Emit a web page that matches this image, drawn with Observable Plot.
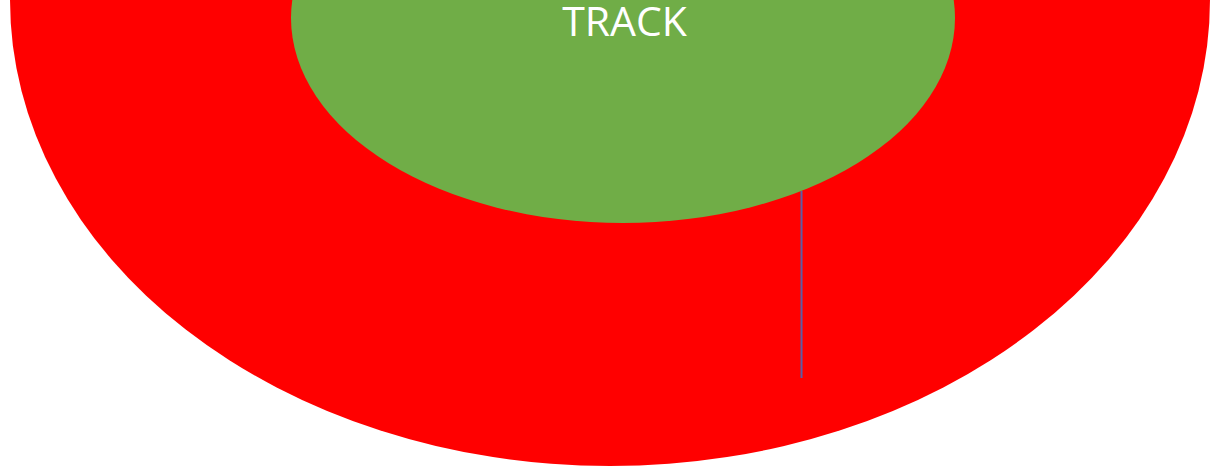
<!DOCTYPE html>
<html>
<head>
<meta charset="utf-8">
<script src="https://cdn.jsdelivr.net/npm/d3@7"></script>
<script src="https://cdn.jsdelivr.net/npm/@observablehq/plot@0.6"></script>
<style>
  html, body { margin: 0; padding: 0; background: #fff; overflow: hidden; }
  svg { display: block; }
</style>
</head>
<body>
<div id="chart"></div>
<script>
// Shapes (data space: pixels of the original picture, y downward)
const shapeNames = ["Outer", "Track"];
const shapeCX = [610, 623];
const shapeCY = [0, 18];
const shapeRX = [600, 332];
const shapeRY = [466, 205];

// Marker rule
const markerX = [801];
const markerY1 = [191];
const markerY2 = [378];

// Label
const labels = ["TRACK"];
const labelX = [624];
const labelY = [22];

const shapeColors = {Outer: "#ff0000", Track: "#70ad47"};

const shapes = shapeNames.map((n, i) => ({name: n, cx: shapeCX[i], cy: shapeCY[i], rx: shapeRX[i], ry: shapeRY[i]}));
const markers = markerX.map((x, i) => ({x, y1: markerY1[i], y2: markerY2[i]}));
const labelData = labels.map((t, i) => ({t, x: labelX[i], y: labelY[i]}));

function ellipseMark(data) {
  return Plot.dot(data, {
    x: "cx", y: "cy",
    render(index, scales, values, dims, context) {
      const g = d3.create("svg:g");
      for (const i of index) {
        const d = data[i];
        const cx = scales.x(d.cx), cy = scales.y(d.cy);
        const rx = Math.abs(scales.x(d.cx + d.rx) - cx);
        const ry = Math.abs(scales.y(d.cy + d.ry) - cy);
        g.append("ellipse")
          .attr("cx", cx).attr("cy", cy)
          .attr("rx", rx).attr("ry", ry)
          .attr("fill", shapeColors[d.name]);
      }
      return g.node();
    }
  });
}

const chart = Plot.plot({
  width: 1210,
  height: 468,
  margin: 0,
  x: {domain: [0, 1210], range: [0, 1210], axis: null},
  y: {domain: [0, 468], range: [0, 468], axis: null},
  style: {background: "#fff", overflow: "hidden"},
  marks: [
    ellipseMark(shapes),
    Plot.ruleX(markers, {x: "x", y1: "y1", y2: "y2", stroke: "#5b5ea6", strokeWidth: 2}),
    Plot.text(labelData, {x: "x", y: "y", text: "t", fill: "#fff", fontSize: 41,
      fontFamily: "Open Sans", textAnchor: "middle", lineAnchor: "middle"})
  ]
});
document.getElementById("chart").appendChild(chart);
</script>
</body>
</html>
